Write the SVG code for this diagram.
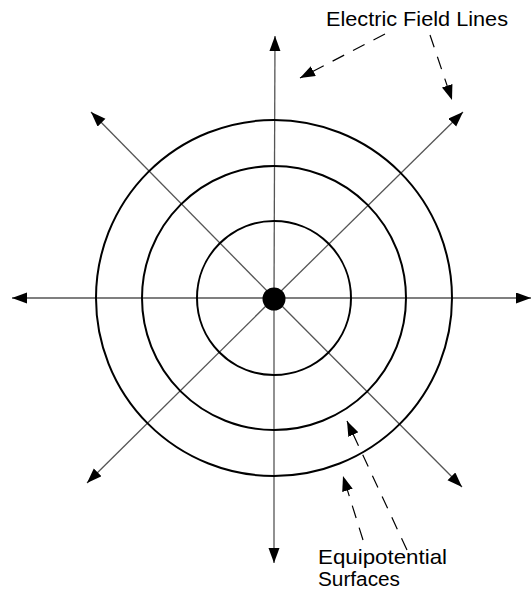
<svg xmlns="http://www.w3.org/2000/svg" width="532" height="592" viewBox="0 0 532 592">
<style>
.field{stroke:#555;stroke-width:1.3;fill:none;marker-end:url(#ah)}
.surf{stroke:#000;stroke-width:2;fill:none}
.lead{stroke:#000;stroke-width:1.2;fill:none;stroke-dasharray:13 10;marker-end:url(#ah2)}
.lbl{font-family:"Liberation Sans",Arial,sans-serif;fill:#000}
</style>
<defs>
<marker id="ah" markerUnits="userSpaceOnUse" markerWidth="16" markerHeight="12" refX="15" refY="5.5" orient="auto">
<path d="M0,0 L15,5.5 L0,11 z" fill="#000"/>
</marker>
<marker id="ah2" markerUnits="userSpaceOnUse" markerWidth="16" markerHeight="12" refX="15" refY="5.5" orient="auto">
<path d="M0,0 L15,5.5 L0,11 z" fill="#000"/>
</marker>
</defs>
<g id="connectors">
<line class="field" x1="274" y1="298" x2="275" y2="36"/>
<line class="field" x1="274" y1="298" x2="274" y2="563"/>
<line class="field" x1="274" y1="298" x2="12" y2="298"/>
<line class="field" x1="274" y1="298" x2="531" y2="298"/>
<line class="field" x1="274" y1="298" x2="91" y2="112"/>
<line class="field" x1="274" y1="298" x2="463" y2="112"/>
<line class="field" x1="274" y1="298" x2="87" y2="483"/>
<line class="field" x1="274" y1="298" x2="462" y2="487"/>
<line class="lead" x1="385" y1="34" x2="300" y2="78"/>
<line class="lead" x1="430" y1="35" x2="452" y2="100"/>
<line class="lead" x1="363" y1="540" x2="343" y2="476"/>
<line class="lead" x1="407" y1="550" x2="347" y2="421"/>
</g>
<g id="surfaces">
<circle class="surf" cx="274" cy="298" r="77"/>
<circle class="surf" cx="274" cy="298" r="132"/>
<circle class="surf" cx="274" cy="298" r="178"/>
</g>
<g id="charge">
<circle cx="274" cy="299" r="11.5" fill="#000"/>
</g>
<g id="label-field">
<text class="lbl" x="326" y="26" font-size="20" textLength="182" lengthAdjust="spacingAndGlyphs">Electric Field Lines</text>
</g>
<g id="label-equipotential">
<text class="lbl" x="318" y="564" font-size="21" textLength="129" lengthAdjust="spacingAndGlyphs">Equipotential</text>
<text class="lbl" x="318" y="586" font-size="20" textLength="82" lengthAdjust="spacingAndGlyphs">Surfaces</text>
</g>
</svg>
